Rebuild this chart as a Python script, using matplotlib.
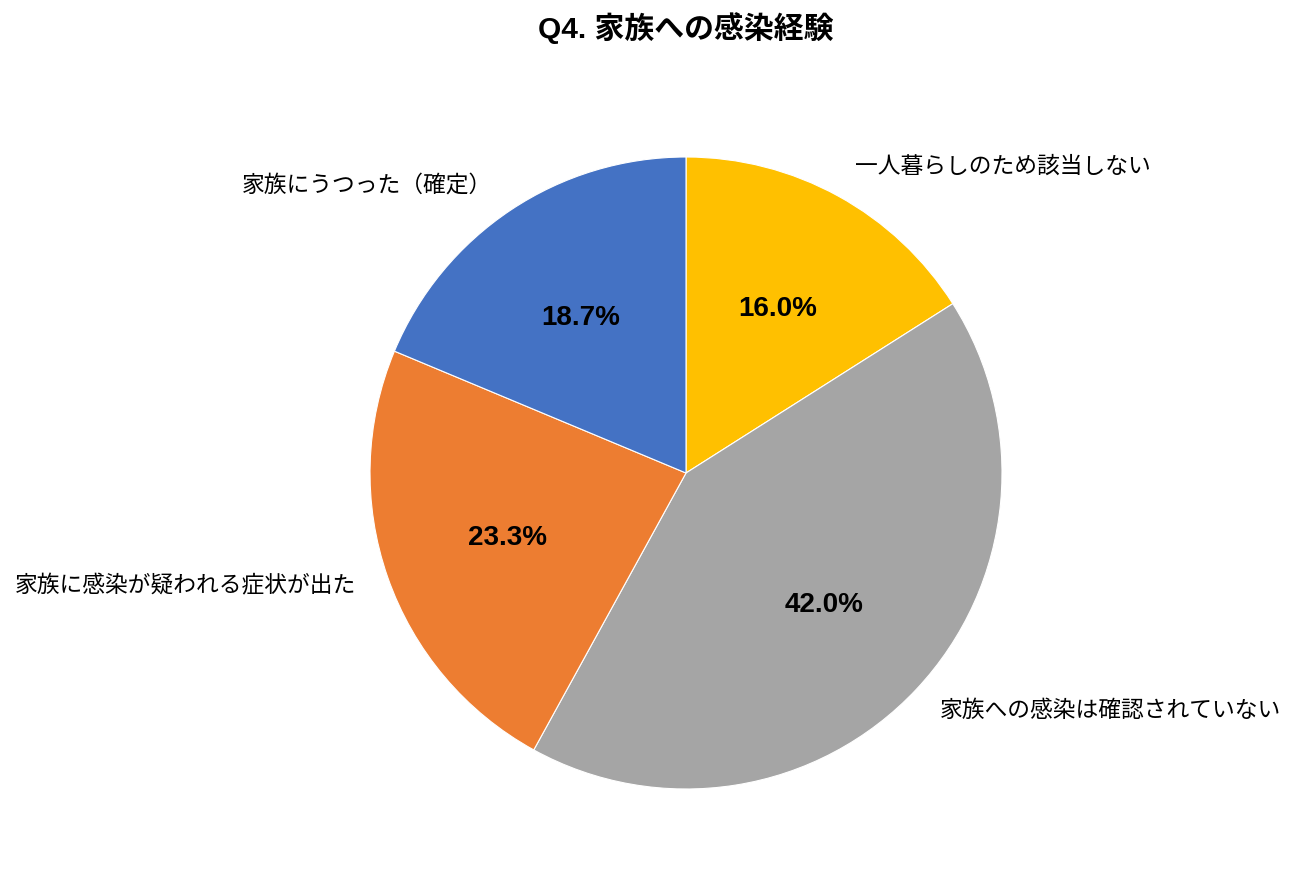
import matplotlib
matplotlib.use("Agg")
import matplotlib.pyplot as plt
import numpy as np

plt.rcParams['font.family'] = ['Noto Sans CJK JP', 'DejaVu Sans']
LATIN_FIRST = ['Liberation Sans', 'Noto Sans CJK JP']

title = "Q4. 家族への感染経験"
categories = ["一人暮らしのため該当しない", "家族への感染は確認されていない",
              "家族に感染が疑われる症状が出た", "家族にうつった（確定）"]
shares = [16.0, 42.0, 23.3, 18.7]
colors = ["#FFC000", "#A5A5A5", "#ED7D31", "#4472C4"]

W, H = 1297, 883
fig = plt.figure(figsize=(W / 100, H / 100), dpi=100)

# pie axes: center (686, 473), radius 316 px
cx, cy, r = 686, 473, 316
ax = fig.add_axes([(cx - r) / W, 1 - (cy + r) / H, 2 * r / W, 2 * r / H])
wedges, _ = ax.pie(shares, colors=colors, startangle=90, counterclock=False,
                   radius=1.0, wedgeprops=dict(linewidth=0.8, edgecolor="white"))
ax.set_xlim(-1, 1)
ax.set_ylim(-1, 1)
ax.set_aspect("equal")

# percentage labels inside the wedges
total = sum(shares)
start = 90.0
for v in shares:
    mid = np.deg2rad(start - v / total * 360 / 2)
    ax.text(0.6 * np.cos(mid), 0.6 * np.sin(mid) - 0.008, f"{v:.1f}%", ha="center", va="center",
            fontsize=20, fontweight="bold", color="black", family=LATIN_FIRST)
    start -= v / total * 360

# category labels outside the pie
label_pos = [(855, 166, "left"), (940, 710, "left"), (356, 586, "right"), (492, 185, "right")]
for name, (px, py, ha) in zip(categories, label_pos):
    fig.text(px / W, 1 - py / H, name, ha=ha, va="center", fontsize=16.4, color="black")

fig.text(686 / W, 1 - 28 / H, title, ha="center", va="center", fontsize=21.5,
         fontweight="bold", color="black", family=LATIN_FIRST)

fig.savefig("out.png", dpi=100)
